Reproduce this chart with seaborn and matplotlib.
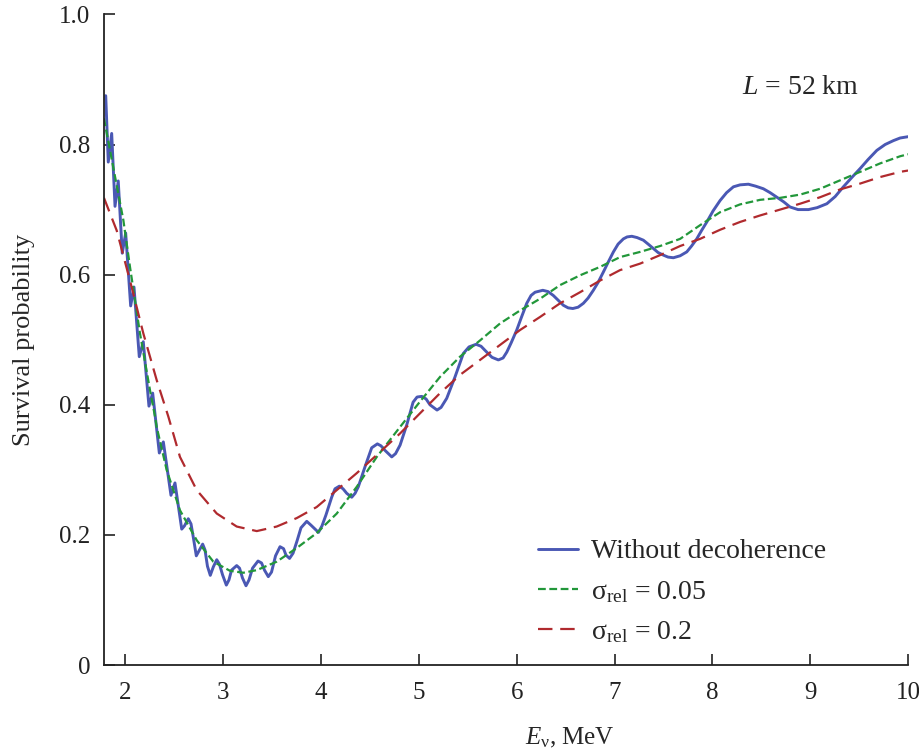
import matplotlib
matplotlib.use("Agg")
import matplotlib.pyplot as plt
import seaborn as sns

# ---------------- data ----------------
E_blue = [1.798, 1.824, 1.859, 1.893, 1.926, 1.967, 2.002, 2.053, 2.087, 2.141,
          2.182, 2.240, 2.278, 2.346, 2.387, 2.465, 2.506,
          2.575, 2.603, 2.642, 2.670, 2.695, 2.724, 2.757, 2.789, 2.813, 2.838,
          2.867, 2.898, 2.933, 2.961, 2.992, 3.031, 3.058, 3.084, 3.137, 3.166,
          3.196, 3.232, 3.263, 3.299, 3.355, 3.391, 3.421, 3.460, 3.493, 3.534,
          3.580, 3.616, 3.641, 3.677, 3.713, 3.754, 3.794, 3.853, 3.897, 3.973,
          4.009, 4.050, 4.108, 4.142, 4.186, 4.224, 4.262, 4.313, 4.347, 4.380,
          4.449, 4.517, 4.575, 4.612, 4.653, 4.722, 4.761, 4.807, 4.875, 4.940,
          4.981, 5.029, 5.073, 5.113, 5.185, 5.226, 5.284, 5.369, 5.454, 5.512,
          5.584, 5.635, 5.693, 5.747, 5.812, 5.860, 5.898, 5.942, 6.000, 6.049,
          6.102, 6.146, 6.187, 6.266, 6.320, 6.374, 6.422, 6.476, 6.525, 6.573,
          6.627, 6.681, 6.729, 6.783, 6.831, 6.885, 6.934, 6.988, 7.036, 7.090,
          7.128, 7.176, 7.230, 7.294, 7.343, 7.397, 7.445, 7.499, 7.547, 7.601,
          7.670, 7.738, 7.787, 7.840, 7.890, 7.943, 8.007, 8.079, 8.145, 8.215,
          8.283, 8.368, 8.442, 8.521, 8.590, 8.659, 8.728, 8.794, 8.876, 8.982,
          9.071, 9.170, 9.255, 9.339, 9.423, 9.510, 9.592, 9.681, 9.766, 9.851,
          9.919, 10.000]
P_blue = [0.875, 0.773, 0.817, 0.705, 0.744, 0.633, 0.664, 0.552, 0.581, 0.474,
          0.497, 0.398, 0.418, 0.326, 0.343, 0.261, 0.280,
          0.209, 0.214, 0.225, 0.217, 0.195, 0.168, 0.177, 0.186, 0.177, 0.152,
          0.138, 0.151, 0.162, 0.155, 0.139, 0.123, 0.131, 0.146, 0.153, 0.149,
          0.134, 0.122, 0.131, 0.149, 0.160, 0.157, 0.146, 0.136, 0.143, 0.168,
          0.182, 0.179, 0.169, 0.164, 0.172, 0.191, 0.211, 0.221, 0.215, 0.204,
          0.214, 0.231, 0.258, 0.271, 0.275, 0.271, 0.264, 0.258, 0.264, 0.274,
          0.305, 0.334, 0.340, 0.337, 0.330, 0.320, 0.325, 0.338, 0.369, 0.404,
          0.412, 0.413, 0.409, 0.400, 0.392, 0.396, 0.410, 0.443, 0.479, 0.489,
          0.493, 0.490, 0.481, 0.473, 0.469, 0.472, 0.481, 0.495, 0.515, 0.535,
          0.556, 0.568, 0.573, 0.576, 0.574, 0.568, 0.561, 0.553, 0.549, 0.548,
          0.550, 0.556, 0.564, 0.576, 0.588, 0.604, 0.619, 0.635, 0.647, 0.655,
          0.658, 0.659, 0.657, 0.653, 0.647, 0.640, 0.634, 0.630, 0.627, 0.626,
          0.629, 0.635, 0.644, 0.655, 0.668, 0.681, 0.698, 0.714, 0.726, 0.735,
          0.738, 0.739, 0.736, 0.732, 0.726, 0.719, 0.712, 0.704, 0.700, 0.700,
          0.703, 0.709, 0.720, 0.735, 0.749, 0.763, 0.777, 0.791, 0.800, 0.806,
          0.810, 0.812]

E_green = [1.780, 1.875, 1.978, 2.046, 2.148, 2.250, 2.302, 2.319, 2.421, 2.557,
           2.728, 2.898, 3.068, 3.204, 3.342, 3.546, 3.751, 3.955, 4.160, 4.364,
           4.569, 4.807, 5.011, 5.216, 5.420, 5.625, 5.829, 6.034, 6.238, 6.443,
           6.647, 6.852, 7.056, 7.261, 7.465, 7.670, 7.874, 8.079, 8.283, 8.488,
           8.692, 8.896, 9.101, 9.306, 9.511, 9.715, 9.920, 10.000]
P_green = [0.840, 0.765, 0.684, 0.612, 0.510, 0.423, 0.382, 0.366, 0.300, 0.238,
           0.192, 0.159, 0.145, 0.142, 0.146, 0.159, 0.180, 0.203, 0.233, 0.274,
           0.320, 0.366, 0.405, 0.443, 0.474, 0.499, 0.525, 0.545, 0.563, 0.584,
           0.599, 0.612, 0.627, 0.635, 0.644, 0.655, 0.676, 0.696, 0.708, 0.715,
           0.718, 0.723, 0.732, 0.745, 0.758, 0.771, 0.782, 0.785]

E_red = [1.780, 1.910, 2.046, 2.182, 2.319, 2.438, 2.557, 2.728, 2.933, 3.137,
         3.342, 3.546, 3.751, 3.955, 4.160, 4.364, 4.569, 4.807, 5.011, 5.216,
         5.420, 5.625, 5.829, 6.034, 6.238, 6.443, 6.647, 6.852, 7.056, 7.261,
         7.465, 7.670, 7.874, 8.079, 8.283, 8.488, 8.692, 8.896, 9.101, 9.306,
         9.511, 9.715, 9.920, 10.000]
P_red = [0.718, 0.668, 0.591, 0.510, 0.438, 0.382, 0.320, 0.269, 0.233, 0.213,
         0.206, 0.213, 0.226, 0.243, 0.269, 0.295, 0.323, 0.356, 0.387, 0.418,
         0.446, 0.469, 0.492, 0.515, 0.535, 0.556, 0.573, 0.591, 0.607, 0.617,
         0.630, 0.644, 0.655, 0.669, 0.681, 0.691, 0.700, 0.709, 0.719, 0.731,
         0.740, 0.750, 0.758, 0.760]

labels = ["Without decoherence",
          "σ$_\\mathregular{rel}$ = 0.05",
          "σ$_\\mathregular{rel}$ = 0.2"]
x_ticks = [2, 3, 4, 5, 6, 7, 8, 9, 10]
y_ticks = [0, 0.2, 0.4, 0.6, 0.8, 1.0]
y_ticklabels = ["0", "0.2", "0.4", "0.6", "0.8", "1.0"]

# ---------------- style ----------------
sns.set_theme(style="ticks")
plt.rcParams["font.family"] = ["Liberation Serif", "DejaVu Serif"]
plt.rcParams["mathtext.fontset"] = "custom"
plt.rcParams["mathtext.rm"] = "Liberation Serif"
plt.rcParams["mathtext.it"] = "Liberation Serif:italic"
plt.rcParams["mathtext.bf"] = "Liberation Serif:bold"

fig = plt.figure(figsize=(9.2, 7.55), dpi=100)
ax = fig.add_axes([0.113, 0.119, 0.874, 0.862])

c_blue = "#4a58b4"
c_green = "#22973a"
c_red = "#b02a2e"

sns.lineplot(x=E_blue, y=P_blue, ax=ax, color=c_blue, lw=2.1, label=labels[0])
sns.lineplot(x=E_green, y=P_green, ax=ax, color=c_green, lw=1.6,
             label=labels[1]).lines[-1].set_dashes([3.5, 1.6])
sns.lineplot(x=E_red, y=P_red, ax=ax, color=c_red, lw=1.6,
             label=labels[2]).lines[-1].set_dashes([6.5, 3.5])

ax.set_xlim(1.78, 10)
ax.set_ylim(0, 1.0)
ax.set_xticks(x_ticks)
ax.set_xticklabels([str(v) for v in x_ticks])
ax.set_yticks(y_ticks)
ax.set_yticklabels(y_ticklabels)
ax.tick_params(direction="in", length=8, width=1.2, labelsize=18, colors="#222222")
ax.tick_params(axis="x", pad=12)
ax.tick_params(axis="y", pad=10)
for s in ["top", "right"]:
    ax.spines[s].set_visible(False)
for s in ["left", "bottom"]:
    ax.spines[s].set_linewidth(1.3)
    ax.spines[s].set_color("#222222")

ax.set_xlabel("$\\mathit{E}_\\mathregular{ν}$, MeV", fontsize=18)
ax.xaxis.set_label_coords(0.58, -0.093)
ax.set_ylabel("Survival probability", fontsize=19, labelpad=17)

ax.text(8.9, 0.888, "$\\mathit{L}$ = 52 km", fontsize=20, ha="center", va="center")

leg = ax.legend(loc="upper left", bbox_to_anchor=(0.540, 0.194), frameon=False,
                fontsize=20, handlelength=1.45, handletextpad=0.45,
                labelspacing=0.52, borderpad=0, borderaxespad=0)

fig.savefig("out.png", dpi=100)
